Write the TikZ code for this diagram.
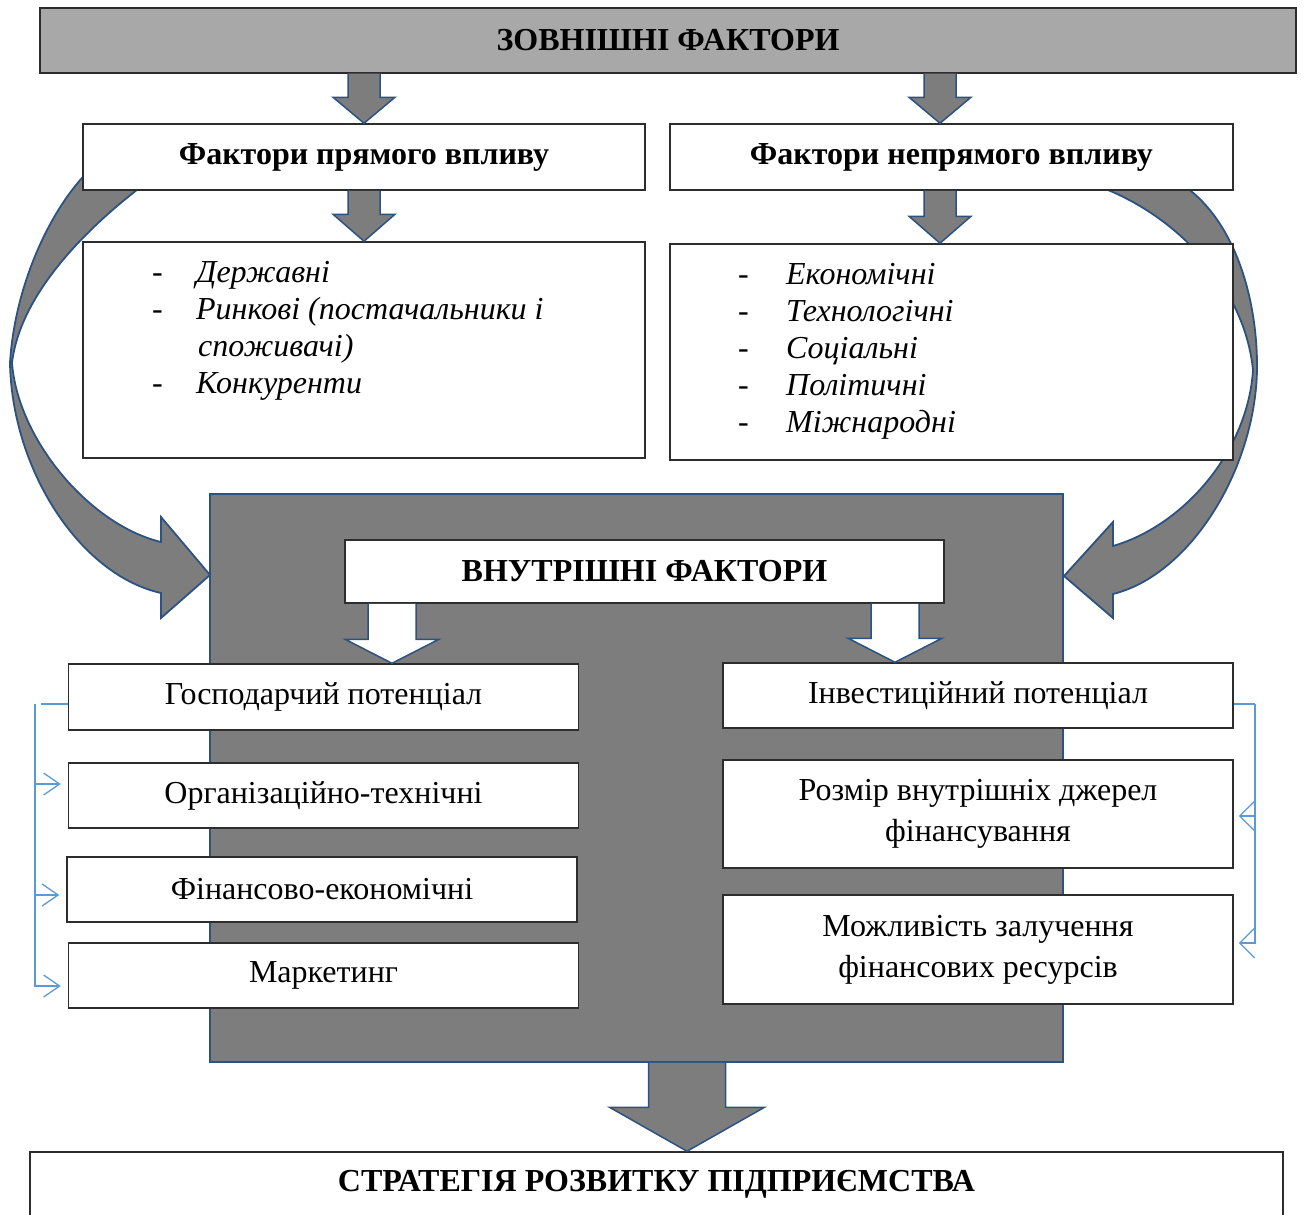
\documentclass[tikz,border=0pt]{standalone}
\usepackage{fontspec}
\setmainfont{Liberation Serif}
\usetikzlibrary{arrows.meta,calc}

\definecolor{shade}{RGB}{125,125,125}
\definecolor{lightshade}{RGB}{168,168,168}
\definecolor{edgeblue}{RGB}{44,82,130}
\definecolor{linkblue}{RGB}{91,155,213}
\definecolor{boxline}{RGB}{45,45,45}

% block arrow: fill, x, from node, to node, half shaft, half head, head length
\newcommand{\blockarrow}[7]{%
\draw[edgeblue,line width=1.5pt,fill=#1] let \p1=(#3.south), \p2=(#4.north) in
 (#2pt+#5pt,\y1) -- (#2pt+#5pt,\y2+#7pt) -- (#2pt+#6pt,\y2+#7pt) -- (#2pt,\y2)
 -- (#2pt-#6pt,\y2+#7pt) -- (#2pt-#5pt,\y2+#7pt) -- (#2pt-#5pt,\y1);}

\begin{document}
\begin{tikzpicture}[x=1pt,y=-1pt,
 hdrbox/.style={draw=boxline,line width=1.5pt,fill=white,inner sep=0pt,font=\fontsize{32}{37}\selectfont\bfseries},
 listbox/.style={draw=boxline,line width=1.5pt,fill=white,inner sep=0pt},
 listtext/.style={anchor=base west,inner sep=0pt,font=\fontsize{32}{37}\selectfont\itshape},
 factorbox/.style={draw=boxline,line width=1.5pt,fill=white,inner sep=0pt,align=center,
   font=\fontsize{32}{41}\selectfont,minimum width=510pt},
 curvedarrow/.style={draw=edgeblue,line width=1.8pt,fill=shade},
 bracket/.style={draw=linkblue,line width=1.3pt},
 bracketarrow/.style={bracket,-{Straight Barb[length=16pt,width=22pt]}}]
\useasboundingbox (0,0) rectangle (1304,1215);

% curved arrows
\draw[curvedarrow] (95,165) .. controls (55,200) and (15,280) .. (10,363)
 .. controls (12,470) and (80,575) .. (161,593) -- (161,618) -- (210,575) -- (161,517) -- (161,542)
 .. controls (90,525) and (18,440) .. (12,363)
 .. controls (20,295) and (85,228) .. (150,180) -- cycle;
\draw[curvedarrow] (1150,170) .. controls (1225,190) and (1258,285) .. (1257,370)
 .. controls (1255,470) and (1190,575) .. (1113,594) -- (1113,618) -- (1064,576) -- (1113,522) -- (1113,546)
 .. controls (1185,525) and (1248,450) .. (1253,370)
 .. controls (1245,290) and (1180,215) .. (1095,185) -- cycle;

% external factors
\node[hdrbox,fill=lightshade,minimum width=1256pt,minimum height=65pt] (ext) at (668,40.5) {ЗОВНІШНІ ФАКТОРИ};
\node[hdrbox,minimum width=562pt,minimum height=66pt] (direct) at (364,157) {Фактори прямого впливу};
\node[hdrbox,minimum width=563pt,minimum height=66pt] (indirect) at (951.5,157) {Фактори непрямого впливу};
\node[listbox,minimum width=562pt,minimum height=216pt] (dirlist) at (364,350) {};
\node[listbox,minimum width=563pt,minimum height=216pt] (indlist) at (951.5,352) {};
\node[listtext] (dirlist text) at (152,282) {\begin{tabular}[t]{@{}p{44pt}@{}l@{}}
 - & Державні\\
 - & Ринкові (постачальники і\\
   & \hspace{2pt}споживачі)\\
 - & Конкуренти
\end{tabular}};
\node[listtext] (indlist text) at (738,284) {\begin{tabular}[t]{@{}p{48pt}@{}l@{}}
 - & Економічні\\
 - & Технологічні\\
 - & Соціальні\\
 - & Політичні\\
 - & Міжнародні
\end{tabular}};

\blockarrow{shade}{364}{ext}{direct}{16}{31}{26}
\blockarrow{shade}{940}{ext}{indirect}{16}{31}{26}
\blockarrow{shade}{364}{direct}{dirlist}{16}{31}{27}
\blockarrow{shade}{940}{indirect}{indlist}{16}{31}{27}

% internal factors
\node[draw=edgeblue,line width=1.8pt,fill=shade,minimum width=853pt,minimum height=568pt] (internal) at (636.5,778) {};
\node[hdrbox,minimum width=599pt,minimum height=63pt] (inttitle) at (644.5,571.5) {ВНУТРІШНІ ФАКТОРИ};

\node[factorbox,minimum height=66pt] (econ) at (323.5,697) {Господарчий потенціал};
\node[factorbox,minimum height=65pt] (org) at (323.5,795.5) {Організаційно-технічні};
\node[factorbox,minimum height=65pt] (fin) at (322,889.5) {Фінансово-економічні};
\node[factorbox,minimum height=65pt] (mark) at (323.5,975.5) {Маркетинг};
\node[factorbox,minimum height=65pt] (invest) at (978,695.5) {Інвестиційний потенціал};
\node[factorbox,minimum height=108pt] (size) at (978,814) {Розмір внутрішніх джерел\\фінансування};
\node[factorbox,minimum height=109pt] (borrow) at (978,949.5) {Можливість залучення\\фінансових ресурсів};

\blockarrow{white}{392}{inttitle}{econ}{24}{47}{24}
\blockarrow{white}{895}{inttitle}{invest}{24}{47}{24}

% links
\coordinate (lbus) at (35,704);
\draw[bracket] ([yshift=-7pt]econ.west) -- ([xshift=6pt]lbus);
\foreach \nd/\dy in {org/11.5,fin/-5.5,mark/-10.5}
 \draw[bracketarrow,shorten >=7pt] (lbus) |- ([yshift=\dy pt]\nd.west);
\coordinate (rbus) at (1255,704);
\draw[bracket] ([yshift=-8.5pt]invest.east) -- (rbus);
\foreach \nd/\dy in {size/-2,borrow/6.5}
 \draw[bracketarrow,-{Straight Barb[length=15pt,width=30pt]},shorten >=5pt] (rbus) |- ([yshift=\dy pt]\nd.east);

% strategy
\node[hdrbox,minimum width=1253pt,minimum height=64pt] (strategy) at (656.5,1184) {СТРАТЕГІЯ РОЗВИТКУ ПІДПРИЄМСТВА};
\blockarrow{shade}{687}{internal}{strategy}{38.5}{77.5}{44}
\end{tikzpicture}
\end{document}
